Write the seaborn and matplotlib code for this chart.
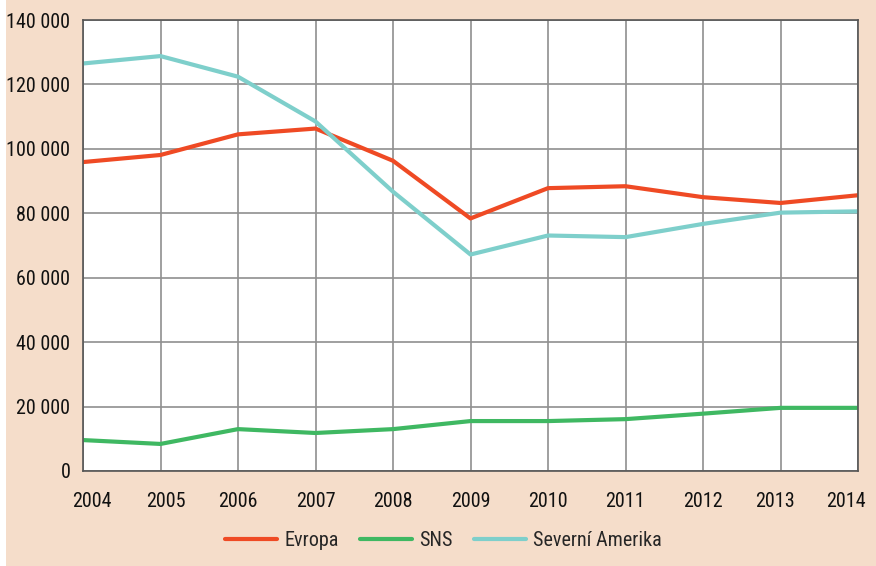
import matplotlib
matplotlib.use("Agg")
import matplotlib.pyplot as plt
import matplotlib.transforms as mtransforms
import seaborn as sns
import pandas as pd
from matplotlib.patches import Rectangle
from matplotlib.ticker import FuncFormatter

years = [2004, 2005, 2006, 2007, 2008, 2009, 2010, 2011, 2012, 2013, 2014]
evropa = [95900, 98100, 104500, 106300, 96300, 78400, 87800, 88400, 85000, 83200, 85600]
sns_vals = [9600, 8400, 13000, 11800, 13000, 15500, 15500, 16100, 17800, 19600, 19600]
amerika = [126500, 128800, 122400, 108500, 86700, 67200, 73100, 72600, 76700, 80200, 80600]
series_names = ["Evropa", "SNS", "Severní Amerika"]
colors = ["#EF4A24", "#3FB862", "#7ECFCB"]

df = pd.DataFrame({
    "Rok": years * 3,
    "Hodnota": evropa + sns_vals + amerika,
    "Region": [series_names[0]] * 11 + [series_names[1]] * 11 + [series_names[2]] * 11,
})

sns.set_theme(style="white")
plt.rcParams["font.family"] = ["Roboto Condensed", "Liberation Sans", "DejaVu Sans"]

bg = "#F5DDCA"
fig = plt.figure(figsize=(8.76, 5.66), dpi=100, facecolor=bg)
fig.patches.append(Rectangle((0, 0), 6 / 876, 1, transform=fig.transFigure,
                             facecolor="white", edgecolor="none", zorder=-1))
ax = fig.add_axes([83 / 876, 1 - 471 / 566, (858 - 83) / 876, (471 - 20) / 566])
ax.set_facecolor("white")

sns.lineplot(data=df, x="Rok", y="Hodnota", hue="Region", palette=colors,
             hue_order=series_names, linewidth=3, ax=ax, legend=True)

ax.set_xlim(2004, 2014)
ax.set_ylim(0, 140000)
ax.set_xticks(years)
ax.set_yticks(range(0, 140001, 20000))
ax.yaxis.set_major_formatter(FuncFormatter(lambda v, p: f"{int(v):,}".replace(",", " ")))
ax.grid(True, color="#8f8f8f", linewidth=1.2)
ax.set_axisbelow(True)
for s in ax.spines.values():
    s.set_color("#555555")
    s.set_linewidth(1.2)
ax.set_xlabel("")
ax.set_ylabel("")
ax.tick_params(axis="both", labelsize=14.5, colors="#111111", length=0)
ax.tick_params(axis="x", pad=15)
ax.tick_params(axis="y", pad=9)

# nudge outer x tick labels inward as in the reference
shifts = {0: 9, 1: 5, 9: -6, 10: -12}
for i, lab in enumerate(ax.get_xticklabels()):
    if i in shifts:
        lab.set_transform(lab.get_transform() +
                          mtransforms.ScaledTranslation(shifts[i] / 100, 0, fig.dpi_scale_trans))

ax.legend(loc="upper center", bbox_to_anchor=(0.465, -0.093), ncol=3, frameon=False,
          fontsize=14.5, handlelength=2.6, columnspacing=1.05, handletextpad=0.35)

fig.savefig("out.png", dpi=100, facecolor=bg)
